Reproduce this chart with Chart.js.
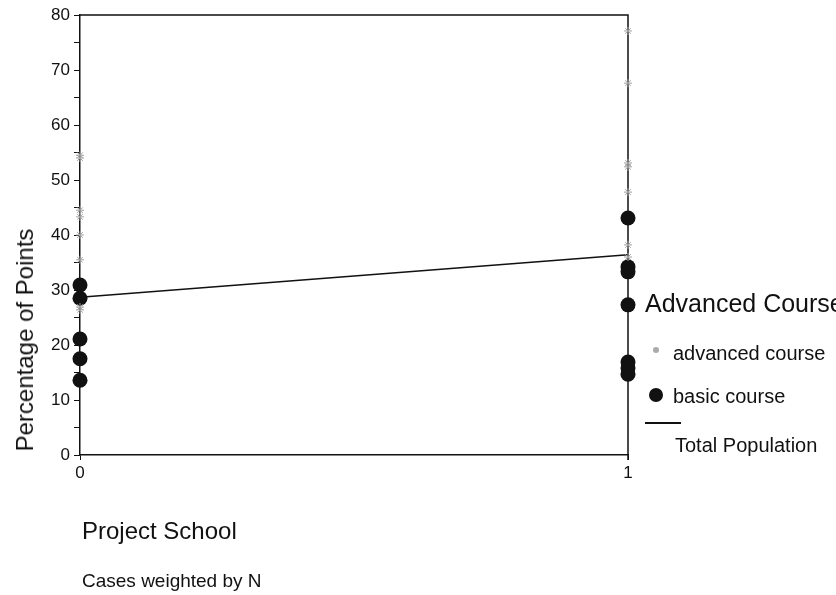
<!DOCTYPE html>
<html>
<head>
<meta charset="utf-8">
<script src="https://cdn.jsdelivr.net/npm/chart.js@4/dist/chart.umd.min.js"></script>
<style>
  html, body { margin: 0; padding: 0; background: #fff; }
  body { width: 836px; height: 595px; overflow: hidden; position: relative;
         font-family: "Liberation Sans", Arial, sans-serif; color: #111; }
  #wrap { position: absolute; left: 0; top: 0; width: 836px; height: 595px; }
  .txt { position: absolute; white-space: nowrap; line-height: 1; }
  #ytitle { font-size: 24px; left: 25px; top: 340px; transform: translate(-50%, -50%) rotate(-90deg); }
  #xtitle { font-size: 24px; left: 82px; top: 519px; }
  #note { font-size: 19px; left: 82px; top: 571px; }
  #lgTitle { font-size: 25px; left: 645px; top: 291px; }
  .lg { font-size: 20px; }
  .dot { position: absolute; border-radius: 50%; }
</style>
</head>
<body>
<div id="wrap"><canvas id="chart" width="836" height="595"></canvas></div>

<div class="txt" id="ytitle">Percentage of Points</div>
<div class="txt" id="xtitle">Project School</div>
<div class="txt" id="note">Cases weighted by N</div>

<div class="txt" id="lgTitle">Advanced Course</div>
<div class="dot" style="left:653px;top:347px;width:6px;height:6px;background:#aaa;"></div>
<div class="txt lg" style="left:673px;top:343px;">advanced course</div>
<div class="dot" style="left:649px;top:388px;width:14px;height:14px;background:#111;"></div>
<div class="txt lg" style="left:673px;top:386px;">basic course</div>
<div style="position:absolute;left:645px;top:422px;width:36px;height:1.5px;background:#111;"></div>
<div class="txt lg" style="left:675px;top:435px;">Total Population</div>

<script>
// ── data ──
const advX0 = [54.5, 54, 44.5, 43.3, 40, 35.5, 26.9, 26.4];
const advX1 = [77.1, 67.6, 53.1, 52.4, 47.8, 38.2, 36];
const basicX0 = [30.9, 28.5, 21.1, 17.5, 13.6];
const basicX1 = [43.1, 34.2, 33.3, 27.3, 16.9, 15.8, 14.7];
const totalLine = [28.7, 36.4];   // at x = 0 and x = 1
const xTicks = [0, 1];
const yTicks = [0, 10, 20, 30, 40, 50, 60, 70, 80];

const pts = (x, arr) => arr.map(v => ({ x: x, y: v }));

// frame on top and right of plot area
const framePlugin = {
  id: 'frame',
  beforeDatasetsDraw(chart) {
    const { ctx, chartArea: a } = chart;
    ctx.save();
    ctx.strokeStyle = '#111';
    ctx.lineWidth = 1.5;
    ctx.beginPath();
    ctx.moveTo(a.left, a.top);
    ctx.lineTo(a.right, a.top);
    ctx.lineTo(a.right, a.bottom + 5);
    ctx.stroke();
    ctx.restore();
  }
};

new Chart(document.getElementById('chart'), {
  type: 'scatter',
  data: {
    datasets: [
      {
        label: 'advanced course',
        data: pts(0, advX0).concat(pts(1, advX1)),
        pointStyle: 'star',
        pointRadius: 4,
        borderColor: '#a0a0a0',
        backgroundColor: '#c8c8c8',
        borderWidth: 1
      },
      {
        label: 'basic course',
        data: pts(0, basicX0).concat(pts(1, basicX1)),
        pointStyle: 'circle',
        pointRadius: 7.5,
        borderColor: '#111',
        backgroundColor: '#111',
        borderWidth: 0
      },
      {
        type: 'line',
        label: 'Total Population',
        data: xTicks.map((x, i) => ({ x: x, y: totalLine[i] })),
        borderColor: '#111',
        borderWidth: 1.5,
        pointRadius: 0,
        fill: false
      }
    ]
  },
  options: {
    responsive: false,
    animation: false,
    clip: false,
    layout: { padding: { left: 0, top: 15, right: 208, bottom: 0 } },
    plugins: { legend: { display: false }, tooltip: { enabled: false } },
    scales: {
      x: {
        type: 'linear',
        min: 0, max: 1,
        afterBuildTicks: s => { s.ticks = xTicks.map(v => ({ value: v })); },
        afterFit: s => { s.height = 140; },
        grid: { drawOnChartArea: false, tickLength: 5, color: '#111' },
        border: { color: '#111', width: 1.5 },
        ticks: { color: '#111', font: { family: 'Liberation Sans', size: 17 }, padding: 3, maxRotation: 0 }
      },
      y: {
        min: 0, max: 80,
        afterBuildTicks: s => {
          const t = [];
          for (let v = 0; v <= 80; v += 5) t.push({ value: v });
          s.ticks = t;
        },
        afterFit: s => { s.width = 80; },
        grid: { drawOnChartArea: false, tickLength: 6, color: '#111' },
        border: { color: '#111', width: 1.5 },
        ticks: {
          color: '#111',
          font: { family: 'Liberation Sans', size: 17 },
          padding: 4,
          callback: v => yTicks.includes(v) ? String(v) : ''
        }
      }
    }
  },
  plugins: [framePlugin]
});
</script>
</body>
</html>
